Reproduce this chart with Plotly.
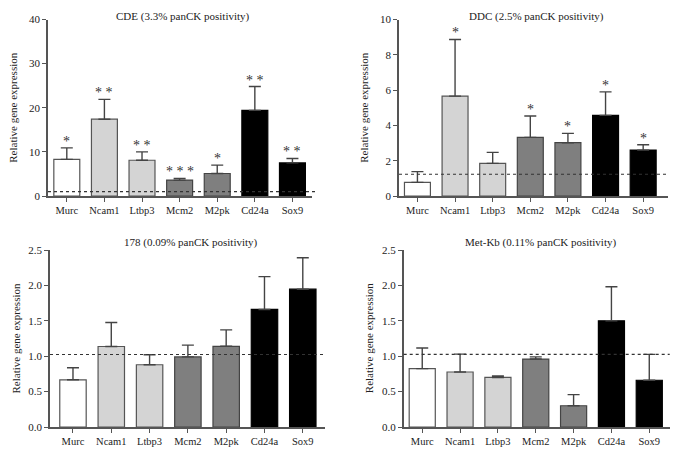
import plotly.graph_objects as go

genes = ["Murc", "Ncam1", "Ltbp3", "Mcm2", "M2pk", "Cd24a", "Sox9"]

cde_mean = [8.3, 17.4, 8.1, 3.6, 5.1, 19.4, 7.5]
cde_err = [2.6, 4.5, 1.9, 0.4, 1.9, 5.4, 1.0]
cde_sig = ["*", "* *", "* *", "* * *", "*", "* *", "* *"]

ddc_mean = [0.77, 5.66, 1.85, 3.32, 3.02, 4.57, 2.6]
ddc_err = [0.61, 3.21, 0.62, 1.21, 0.53, 1.33, 0.3]
ddc_sig = ["", "*", "", "*", "*", "*", "*"]

m178_mean = [0.667, 1.137, 0.879, 0.99, 1.14, 1.66, 1.946]
m178_err = [0.169, 0.339, 0.141, 0.166, 0.232, 0.464, 0.444]
m178_sig = ["", "", "", "", "", "", ""]

metkb_mean = [0.824, 0.777, 0.70, 0.96, 0.30, 1.50, 0.66]
metkb_err = [0.292, 0.253, 0.02, 0.03, 0.157, 0.48, 0.366]
metkb_sig = ["", "", "", "", "", "", ""]

titles = ["CDE (3.3% panCK positivity)", "DDC (2.5% panCK positivity)",
          "178 (0.09% panCK positivity)", "Met-Kb (0.11% panCK positivity)"]
baselines = [1.0, 1.23, 1.024, 1.026]
y_ranges = [[0, 40], [0, 10], [0, 2.5], [0, 2.5]]
y_dticks = [10, 2, 0.5, 0.5]
y_formats = ["d", "d", ".1f", ".1f"]

fills = ["#ffffff", "#d4d4d4", "#d4d4d4", "#7f7f7f", "#7f7f7f", "#000000", "#000000"]
lines = ["#555555", "#555555", "#555555", "#444444", "#444444", "#000000", "#000000"]

FONT = "Liberation Serif"
AX = "#555555"

panels = [
    (cde_mean, cde_err, cde_sig),
    (ddc_mean, ddc_err, ddc_sig),
    (m178_mean, m178_err, m178_sig),
    (metkb_mean, metkb_err, metkb_sig),
]

# the page body has an 8px margin, so the figure is drawn 8px in
OFF = 8
W, H = 678 - OFF, 455 - OFF
# pixel boxes in window coordinates: (x_left, x_right, y_top, y_bottom)
boxes = [(48.0, 312.0, 19.5, 196.0),
         (399.0, 668.0, 19.5, 196.0),
         (50.0, 325.0, 250.0, 427.0),
         (403.7, 669.7, 250.0, 427.0)]
x_ranges = [[-0.5, 6.52], [-0.49, 6.66], [-0.6, 6.58], [-0.49, 6.54]]

fig = go.Figure()
layout = dict(
    width=W, height=H,
    margin=dict(l=0, r=0, t=0, b=0, pad=0, autoexpand=False),
    paper_bgcolor="white", plot_bgcolor="white", showlegend=False,
    font=dict(family=FONT, size=11, color="#222222"),
)
annotations = []
shapes = []

for i, (mean, err, sig) in enumerate(panels):
    n = i + 1
    xs = "x" if n == 1 else f"x{n}"
    ys = "y" if n == 1 else f"y{n}"
    xl, xr, yt, yb = [v - OFF for v in boxes[i]]
    xdom = [xl / W, xr / W]
    ydom = [(H - yb) / H, (H - yt) / H]
    fig.add_trace(go.Bar(
        x=genes, y=mean, xaxis=xs, yaxis=ys,
        marker=dict(color=fills, line=dict(color=lines, width=1.2)),
        error_y=dict(type="data", symmetric=False, array=err,
                     arrayminus=[0] * len(err), color="#444444",
                     thickness=1.4, width=6),
        width=0.69,
    ))
    xkey = "xaxis" if n == 1 else f"xaxis{n}"
    ykey = "yaxis" if n == 1 else f"yaxis{n}"
    layout[xkey] = dict(
        domain=xdom, anchor=ys, range=x_ranges[i], showline=True,
        linecolor=AX, linewidth=1.5, ticks="outside", ticklen=4,
        tickcolor=AX, tickwidth=1.2, showgrid=False, zeroline=False,
        automargin=False,
        tickfont=dict(size=10.5, color="#222222"),
    )
    layout[ykey] = dict(
        domain=ydom, anchor=xs, range=y_ranges[i], dtick=y_dticks[i],
        tickformat=y_formats[i], showline=True, linecolor=AX, linewidth=1.5,
        ticks="outside", ticklen=4, tickcolor=AX, tickwidth=1.2,
        showgrid=False, zeroline=False, automargin=False,
        tickfont=dict(size=11, color="#222222"),
    )
    # baseline dotted line
    shapes.append(dict(type="line", xref=f"{xs} domain", yref=ys,
                       x0=0, x1=1.02 if n == 1 else 1,
                       y0=baselines[i], y1=baselines[i],
                       line=dict(color="#333333", width=1.1, dash="dot")))
    # title
    if n <= 2:
        ty, tanchor = 1.0, "top"
    else:
        ty, tanchor = (H - yt + 8) / H, "middle"
    annotations.append(dict(text=titles[i], xref="paper", yref="paper",
                            x=(xl + xr) / 2 / W + 0.005, y=ty,
                            xanchor="center", yanchor=tanchor, showarrow=False,
                            font=dict(size=11, color="#222222")))
    # y-axis title
    annotations.append(dict(text="Relative gene expression", xref="paper",
                            yref="paper", x=(xl - 35) / W,
                            y=(H - (yt + yb) / 2) / H, textangle=-90,
                            xanchor="center", yanchor="middle",
                            showarrow=False,
                            font=dict(size=11, color="#222222")))
    # significance marks
    for g, m, e, s in zip(genes, mean, err, sig):
        if s:
            annotations.append(dict(text=s, x=g, y=m + e, xref=xs, yref=ys,
                                    xanchor="center", yanchor="bottom",
                                    showarrow=False, yshift=-3,
                                    font=dict(size=14, color="#333333")))

layout["annotations"] = annotations
layout["shapes"] = shapes
fig.update_layout(**layout)
fig.write_html("out.html")
